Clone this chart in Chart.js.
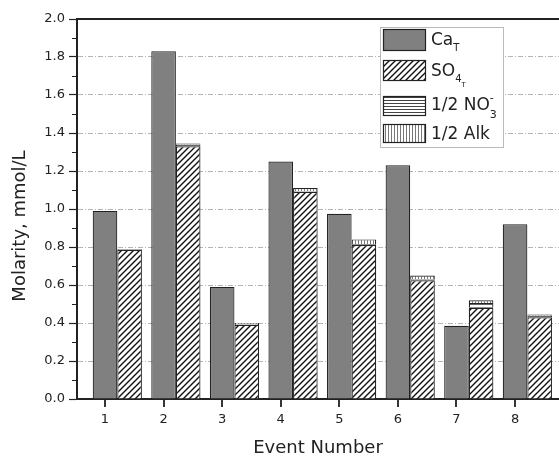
<!DOCTYPE html>
<html lang="en">

<head>
    <meta charset="UTF-8">
    <title>Molarity by event</title>
    <script src="https://cdn.jsdelivr.net/npm/chart.js@4.4.1/dist/chart.umd.min.js"></script>
    <style>
        body { margin: 0; background: #fff; }
        #chartBox { width: 559px; height: 457px; }
    </style>
</head>

<body>
    <div id="chartBox">
        <canvas id="molChart" width="559" height="457"></canvas>
    </div>

    <script>
        // values (mmol/L)
        const events = [1, 2, 3, 4, 5, 6, 7, 8];
        const caT = [0.99, 1.83, 0.59, 1.25, 0.975, 1.23, 0.385, 0.92];
        const so4T = [0.785, 1.33, 0.39, 1.09, 0.81, 0.625, 0.48, 0.43];
        const halfNO3 = [0.005, 0.01, 0.005, 0.005, 0.005, 0.005, 0.025, 0.01];
        const halfAlk = [0.0, 0.005, 0.005, 0.015, 0.025, 0.02, 0.015, 0.005];

        const FONT = "'DejaVu Sans', sans-serif";
        const INK = '#222';
        const Y_TITLE = 'Molarity, mmol/L';

        // hatch fills
        function makePattern(kind) {
            const size = kind === 'diag' ? 6 : 3;
            const c = document.createElement('canvas');
            c.width = size; c.height = size;
            const g = c.getContext('2d');
            g.fillStyle = '#fff';
            g.fillRect(0, 0, size, size);
            g.beginPath();
            if (kind === 'diag') {
                g.strokeStyle = '#111';
                g.lineWidth = 1.4;
                g.moveTo(-1, size + 1); g.lineTo(size + 1, -1);
                g.moveTo(-1, 1); g.lineTo(1, -1);
                g.moveTo(size - 1, size + 1); g.lineTo(size + 1, size - 1);
            } else if (kind === 'horiz') {
                g.strokeStyle = '#444';
                g.lineWidth = 1;
                g.moveTo(0, 1.5); g.lineTo(size, 1.5);
            } else {
                g.strokeStyle = '#777';
                g.lineWidth = 1;
                g.moveTo(1.5, 0); g.lineTo(1.5, size);
            }
            g.stroke();
            return g.createPattern(c, 'repeat');
        }

        const ctx = document.getElementById('molChart').getContext('2d');
        const fills = {
            ca: '#808080',
            so4: makePattern('diag'),
            no3: makePattern('horiz'),
            alk: makePattern('vert')
        };

        function pts(arr) {
            return events.map((e, i) => ({ x: e, y: arr[i] }));
        }

        // legend with sub/superscripts, frame, ticks, y title
        const decorPlugin = {
            id: 'decor',
            afterDraw(chart) {
                const c = chart.ctx;
                const area = chart.chartArea;
                const y = chart.scales.y;
                const x = chart.scales.x;

                c.save();
                // top frame
                c.strokeStyle = INK;
                c.lineWidth = 2;
                c.beginPath();
                c.moveTo(area.left - 1, area.top);
                c.lineTo(area.right + 2, area.top);
                c.stroke();

                // minor y ticks
                c.lineWidth = 1.2;
                c.beginPath();
                for (let v = 0.1; v < 2; v += 0.2) {
                    const py = Math.round(y.getPixelForValue(v)) + 0.5;
                    c.moveTo(area.left - 5, py);
                    c.lineTo(area.left, py);
                }
                c.stroke();

                // x ticks
                c.lineWidth = 1.8;
                c.beginPath();
                events.forEach(e => {
                    const px = Math.round(x.getPixelForValue(e));
                    c.moveTo(px, area.bottom);
                    c.lineTo(px, area.bottom + 8);
                });
                c.stroke();

                // y title
                c.save();
                c.translate(20, 226);
                c.rotate(-Math.PI / 2);
                c.font = '18px ' + FONT;
                c.fillStyle = INK;
                c.textAlign = 'center';
                c.textBaseline = 'middle';
                c.fillText(Y_TITLE, 0, 0);
                c.restore();

                // legend box
                const bx = 380, by = 27, bw = 123, bh = 120;
                c.fillStyle = '#fff';
                c.fillRect(bx, by, bw, bh);
                c.strokeStyle = '#bbb';
                c.lineWidth = 1;
                c.strokeRect(bx + 0.5, by + 0.5, bw, bh);

                const rows = [
                    { fill: fills.ca, top: 29, h: 22, base: 45, parts: [['Ca', 17, 0], ['T', 10, 6]] },
                    { fill: fills.so4, top: 60, h: 21, base: 76, parts: [['SO', 17, 0], ['4', 10, 6], ['T', 7, 11]] },
                    { fill: fills.no3, top: 96, h: 20, base: 110, parts: [['1/2 NO', 17, 0], ['-', 11, -9, true], ['3', 11, 8]] },
                    { fill: fills.alk, top: 124, h: 19, base: 139, parts: [['1/2 Alk', 17, 0]] }
                ];
                rows.forEach(r => {
                    c.fillStyle = r.fill;
                    c.fillRect(383, r.top, 43, r.h);
                    c.strokeStyle = INK;
                    c.lineWidth = 1.2;
                    c.strokeRect(383.5, r.top + 0.5, 42, r.h - 1);

                    c.fillStyle = INK;
                    c.textBaseline = 'alphabetic';
                    c.textAlign = 'left';
                    let tx = 431;
                    r.parts.forEach(([txt, size, dy, overlay]) => {
                        c.font = size + 'px ' + FONT;
                        const w = c.measureText(txt).width;
                        c.fillText(txt, tx, r.base + dy);
                        // superscript sits above the following subscript
                        if (!overlay) tx += w;
                    });
                });
                c.restore();
            }
        };

        new Chart(ctx, {
            type: 'bar',
            data: {
                datasets: [
                    { label: 'CaT', data: pts(caT), stack: 'ca', backgroundColor: fills.ca },
                    { label: 'SO4T', data: pts(so4T), stack: 'rest', backgroundColor: fills.so4 },
                    { label: '1/2 NO3-', data: pts(halfNO3), stack: 'rest', backgroundColor: fills.no3 },
                    { label: '1/2 Alk', data: pts(halfAlk), stack: 'rest', backgroundColor: fills.alk }
                ].map(d => Object.assign(d, {
                    xAxisID: 'xb',
                    borderColor: INK,
                    borderWidth: 1.2,
                    borderSkipped: 'start',
                    categoryPercentage: 0.84,
                    barPercentage: 1.0
                }))
            },
            options: {
                responsive: false,
                animation: false,
                layout: { padding: { top: 19, left: 0, right: 0, bottom: 0 } },
                plugins: {
                    legend: { display: false },
                    tooltip: { enabled: false }
                },
                scales: {
                    // bar placement axis, shifted so CaT bars sit on the ticks
                    xb: {
                        type: 'linear',
                        display: false,
                        offset: false,
                        grid: { offset: false },
                        min: 0.312,
                        max: 8.54
                    },
                    x: {
                        type: 'linear',
                        position: 'bottom',
                        offset: false,
                        min: 0.522,
                        max: 8.75,
                        afterBuildTicks: s => { s.ticks = events.map(v => ({ value: v })); },
                        afterFit: s => { s.height = 58; },
                        grid: {
                            offset: false,
                            drawOnChartArea: false,
                            drawTicks: true,
                            tickLength: 8,
                            tickColor: 'rgba(0,0,0,0)'
                        },
                        border: { color: INK, width: 2 },
                        ticks: {
                            padding: 5,
                            color: INK,
                            font: { family: FONT, size: 13 },
                            callback: v => String(v)
                        },
                        title: {
                            display: true,
                            text: 'Event Number',
                            color: INK,
                            font: { family: FONT, size: 18, lineHeight: 1 },
                            padding: 0
                        }
                    },
                    y: {
                        min: 0,
                        max: 2,
                        afterFit: s => { s.width = 77; },
                        grid: {
                            color: c => (c.tick && (c.tick.value === 0 || c.tick.value === 2)) ? 'rgba(0,0,0,0)' : '#b4b4b4',
                            lineWidth: 1,
                            tickLength: 8,
                            tickColor: INK,
                            tickWidth: 1.2
                        },
                        border: { color: INK, width: 2, dash: [5, 2, 1, 2] },
                        ticks: {
                            stepSize: 0.2,
                            padding: 4,
                            color: INK,
                            font: { family: FONT, size: 13 },
                            callback: v => Number(v).toFixed(1)
                        },
                        title: { display: false }
                    }
                }
            },
            plugins: [decorPlugin]
        });
    </script>
</body>

</html>
